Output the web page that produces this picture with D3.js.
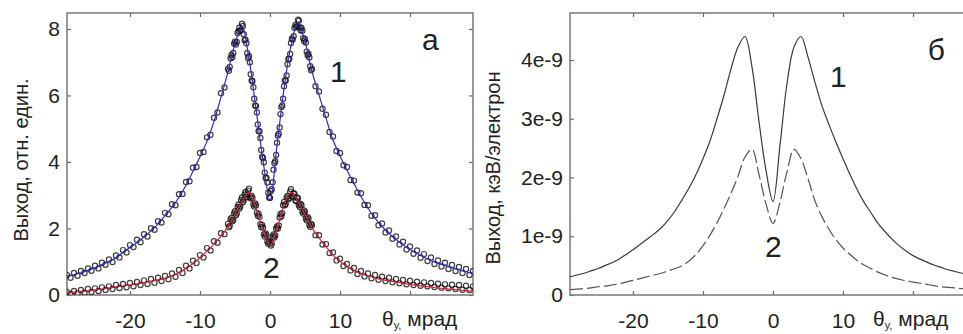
<!DOCTYPE html>
<html>
<head>
<meta charset="utf-8">
<script src="https://cdn.jsdelivr.net/npm/d3@7"></script>
<style>
  body { margin: 0; background: #fff; }
  text { font-family: "Liberation Sans", Arial, sans-serif; fill: #222; }
</style>
</head>
<body>
<div id="chart"></div>
<script>
// angle grid of the fitted / calculated curves, mrad
var thetaFit = [-29,-28,-27,-26,-25,-24,-23,-22,-21,-20,-19,-18,-17,-16,-15,-14,-13,-12,-11,-10,
  -9,-8,-7,-6,-5,-4,-3,-2,-1,0,1,2,3,4,5,6,7,8,9,10,
  11,12,13,14,15,16,17,18,19,20,21,22,23,24,25,26,27,28,29];

// panel a: fits (rel. units)
var fitA1 = [0.56,0.61,0.67,0.74,0.82,0.91,1.01,1.12,1.28,1.43,1.58,1.75,1.93,2.14,2.38,2.64,2.94,3.30,3.72,4.16,
  4.62,5.22,5.95,6.72,7.55,8.08,7.10,5.60,4.05,2.85,4.50,6.20,7.50,8.20,7.62,6.72,6.02,5.32,4.66,4.18,
  3.75,3.35,2.96,2.61,2.31,2.06,1.85,1.67,1.51,1.37,1.25,1.14,1.04,0.96,0.89,0.82,0.76,0.70,0.65];
var fitA2 = [0.06,0.08,0.10,0.12,0.15,0.18,0.21,0.24,0.27,0.30,0.33,0.37,0.41,0.45,0.50,0.57,0.67,0.80,0.95,1.12,
  1.32,1.53,1.77,2.06,2.42,2.82,3.08,2.62,1.95,1.50,1.98,2.72,3.08,2.82,2.42,2.02,1.72,1.45,1.20,1.01,
  0.85,0.73,0.64,0.57,0.51,0.46,0.42,0.39,0.35,0.32,0.29,0.26,0.24,0.21,0.19,0.17,0.15,0.13,0.11];

// panel a: measured points
var thetaData = [-29,-28.5,-28,-27.5,-27,-26.5,-26,-25.5,-25,-24.5,-24,-23.5,-23,-22.5,-22,-21.5,-21,-20.5,-20,-19.5,
  -19,-18.5,-18,-17.5,-17,-16.5,-16,-15.5,-15,-14.5,-14,-13.5,-13,-12.5,-12,-11.5,-11,-10.5,-10,-9.5,
  -9,-8.5,-8,-7.5,-7,-6.5,
  -6,-5.75,-5.5,-5.25,-5,-4.75,-4.5,-4.25,-4,-3.75,-3.5,-3.25,-3,-2.75,-2.5,-2.25,-2,-1.75,-1.5,-1.25,
  -1,-0.75,-0.5,-0.25,0,0.25,0.5,0.75,1,1.25,1.5,1.75,2,2.25,2.5,2.75,3,3.25,3.5,3.75,
  4,4.25,4.5,4.75,5,5.25,5.5,5.75,6,
  6.5,7,7.5,8,8.5,9,9.5,10,10.5,11,11.5,12,12.5,13,13.5,14,14.5,15,15.5,16,
  16.5,17,17.5,18,18.5,19,19.5,20,20.5,21,21.5,22,22.5,23,23.5,24,24.5,25,25.5,26,
  26.5,27,27.5,28,28.5,29];
var dataA1 = [0.60,0.52,0.66,0.58,0.72,0.66,0.80,0.73,0.88,0.80,0.97,0.91,1.07,0.99,1.19,1.13,1.35,1.28,1.50,1.44,
  1.66,1.59,1.83,1.76,2.01,1.96,2.22,2.18,2.47,2.43,2.73,2.70,3.03,3.04,3.40,3.42,3.83,3.85,4.27,4.30,
  4.74,4.82,5.33,5.49,6.07,6.24,
  6.80,6.86,7.22,7.28,7.62,7.61,7.93,7.95,8.16,7.84,7.68,7.27,7.18,6.64,6.43,5.90,5.68,5.13,4.92,4.36,
  4.12,3.68,3.52,3.08,2.92,3.18,3.77,4.02,4.58,4.85,5.44,5.70,6.28,6.45,6.94,7.10,7.58,7.68,8.04,8.06,
  8.28,8.05,8.03,7.72,7.70,7.32,7.25,6.88,6.80,
  6.28,6.12,5.60,5.42,4.90,4.77,4.33,4.27,3.90,3.85,3.46,3.44,3.08,3.06,2.71,2.70,2.38,2.40,2.10,2.15,
  1.88,1.94,1.69,1.76,1.52,1.60,1.37,1.46,1.24,1.34,1.12,1.23,1.02,1.13,0.93,1.04,0.86,0.97,0.78,0.90,
  0.72,0.84,0.66,0.78,0.60,0.72];
var dataA2 = [0.10,0.03,0.12,0.05,0.15,0.07,0.18,0.09,0.20,0.12,0.23,0.15,0.26,0.18,0.30,0.21,0.33,0.23,0.36,0.26,
  0.39,0.30,0.44,0.33,0.48,0.37,0.52,0.42,0.57,0.47,0.65,0.55,0.75,0.66,0.88,0.80,1.03,0.96,1.20,1.13,
  1.41,1.34,1.62,1.57,1.86,1.83,
  2.14,2.08,2.32,2.26,2.52,2.45,2.72,2.66,2.93,2.85,3.10,3.02,3.20,2.90,2.92,2.66,2.70,2.38,2.35,2.04,
  2.03,1.76,1.80,1.54,1.58,1.55,1.82,1.79,2.06,2.09,2.44,2.46,2.80,2.74,2.98,2.92,3.18,2.96,3.04,2.82,
  2.90,2.65,2.70,2.45,2.50,2.25,2.30,2.05,2.10,
  1.80,1.80,1.52,1.53,1.26,1.28,1.04,1.09,0.87,0.93,0.74,0.81,0.63,0.72,0.56,0.65,0.50,0.60,0.46,0.55,
  0.42,0.52,0.38,0.48,0.35,0.45,0.32,0.43,0.30,0.40,0.28,0.38,0.26,0.36,0.24,0.34,0.22,0.32,0.20,0.31,
  0.18,0.30,0.16,0.28,0.15,0.26];

// extra measured points in the steep central part
var thetaDataFine = [-5.875,-5.625,-5.375,-5.125,-4.875,-4.625,-4.375,-4.125,-3.875,-3.625,-3.375,-3.125,
  -2.875,-2.625,-2.375,-2.125,-1.875,-1.625,-1.375,-1.125,-0.875,-0.625,-0.375,-0.125,
  0.125,0.375,0.625,0.875,1.125,1.375,1.625,1.875,2.125,2.375,2.625,2.875,
  3.125,3.375,3.625,3.875,4.125,4.375,4.625,4.875,5.125,5.375,5.625,5.875];
var dataA1Fine = [6.74,7.12,7.15,7.56,7.53,7.88,8.04,7.98,8.09,7.66,7.57,7.13,
  7.00,6.45,6.25,5.70,5.49,4.93,4.72,4.16,3.99,3.52,3.38,2.93,
  3.13,3.39,3.97,4.21,4.80,5.04,5.65,5.90,6.45,6.60,7.10,7.25,
  7.71,7.78,8.12,8.09,8.25,7.96,7.95,7.64,7.59,7.21,7.14,6.76];
var dataA2Fine = [2.04,2.27,2.22,2.46,2.40,2.65,2.60,2.86,2.79,3.02,2.94,3.14,
  2.95,2.98,2.72,2.75,2.47,2.44,2.13,2.11,1.83,1.85,1.60,1.62,
  1.49,1.75,1.73,1.99,2.00,2.33,2.37,2.70,2.70,2.93,2.88,3.11,
  2.98,3.06,2.85,2.93,2.70,2.74,2.50,2.54,2.30,2.34,2.10,2.14];

// panel б: calculated yield, units of 1e-9 keV/electron
var calcB1 = [0.31,0.34,0.37,0.41,0.45,0.50,0.55,0.61,0.69,0.77,0.86,0.95,1.04,1.14,1.27,1.43,1.62,1.82,2.05,2.32,
  2.62,3.00,3.40,3.85,4.22,4.40,3.88,2.95,2.12,1.59,2.55,3.60,4.22,4.40,4.05,3.62,3.22,2.90,2.60,2.32,
  2.05,1.80,1.58,1.40,1.22,1.08,0.95,0.84,0.75,0.67,0.61,0.56,0.51,0.47,0.43,0.40,0.37,0.34,0.32];
var calcB2 = [0.09,0.10,0.11,0.12,0.14,0.15,0.17,0.19,0.22,0.25,0.28,0.31,0.34,0.37,0.41,0.45,0.50,0.58,0.69,0.84,
  1.02,1.23,1.47,1.73,2.02,2.35,2.48,2.05,1.55,1.22,1.58,2.10,2.48,2.32,1.98,1.60,1.33,1.12,0.94,0.80,
  0.69,0.59,0.51,0.45,0.39,0.34,0.30,0.27,0.24,0.22,0.20,0.18,0.16,0.14,0.13,0.12,0.11,0.10,0.09];

// ticks
var xTicks = [-20, -10, 0, 10, 20];
var xTickLabels = ["-20", "-10", "0", "10", ""];
var yTicksA = [0, 2, 4, 6, 8];
var yTicksB = [0, 1, 2, 3, 4];
var yTickLabelsB = ["0", "1e-9", "2e-9", "3e-9", "4e-9"];

var svgWidth = 963;
var svgHeight = 334;
var width = 406;
var height = 282;
var top0 = 13;

var svg = d3.select("#chart")
  .append("svg")
  .attr("width", svgWidth)
  .attr("height", svgHeight);

var xScale = d3.scaleLinear().domain([-29, 29]).range([0, width]);
var yScaleA = d3.scaleLinear().domain([0, 8.48]).range([height, 0]);
var yScaleB = d3.scaleLinear().domain([0, 4.8]).range([height, 0]);

function zip(xs, ys) {
  return xs.map((x, i) => [x, ys[i]]);
}

// frame with inward ticks on all four sides
function drawFrame(g, yScale, yTicks, yLabels, id) {
  g.append("g")
    .attr("class", "axis")
    .attr("transform", `translate(0, ${height})`)
    .call(d3.axisBottom(xScale).tickValues(xTicks).tickSizeInner(-4).tickSizeOuter(0)
      .tickPadding(18).tickFormat((d, i) => xTickLabels[i]));
  g.append("g")
    .attr("class", "axis")
    .call(d3.axisTop(xScale).tickValues(xTicks).tickSizeInner(-4).tickSizeOuter(0).tickFormat(""));
  g.append("g")
    .attr("class", "axis")
    .call(d3.axisLeft(yScale).tickValues(yTicks).tickSizeInner(-4).tickSizeOuter(0)
      .tickPadding(7).tickFormat((d, i) => yLabels[i]));
  g.append("g")
    .attr("class", "axis")
    .attr("transform", `translate(${width}, 0)`)
    .call(d3.axisRight(yScale).tickValues(yTicks).tickSizeInner(-4).tickSizeOuter(0).tickFormat(""));

  g.selectAll(".axis .domain").remove();
  g.selectAll(".axis line").attr("stroke", "#666").attr("stroke-width", 1.2);
  g.selectAll(".axis text")
    .attr("font-size", 21)
    .attr("font-family", "Liberation Sans, Arial, sans-serif")
    .attr("fill", "#222");

  g.append("rect")
    .attr("width", width)
    .attr("height", height)
    .attr("fill", "none")
    .attr("stroke", "#777")
    .attr("stroke-width", 1.5);

  g.append("clipPath").attr("id", id)
    .append("rect").attr("width", width).attr("height", height);
}

function xTitle(g, dx) {
  var t = g.append("text")
    .attr("x", dx)
    .attr("y", height + 31)
    .attr("font-size", 21);
  t.append("tspan").text("θ");
  t.append("tspan").attr("font-size", 11).attr("dy", 3).text("y,");
  t.append("tspan").attr("dy", -3).text(" мрад");
}

// ---------- panel a ----------
var gA = svg.append("g").attr("transform", `translate(67, ${top0})`);
drawFrame(gA, yScaleA, yTicksA, yTicksA.map(String), "clipA");

var lineA = d3.line()
  .x(d => xScale(d[0]))
  .y(d => yScaleA(d[1]))
  .curve(d3.curveCatmullRom.alpha(0.5));

var plotA = gA.append("g").attr("clip-path", "url(#clipA)");

function drawPoints(xs, values) {
  plotA.append("g")
    .selectAll("circle")
    .data(zip(xs, values))
    .enter()
    .append("circle")
    .attr("cx", d => xScale(d[0]))
    .attr("cy", d => yScaleA(d[1]))
    .attr("r", 2.6)
    .attr("fill", "none")
    .attr("stroke", "#111")
    .attr("stroke-width", 1.2)
    .attr("opacity", 0.8);
}

drawPoints(thetaData, dataA1);
drawPoints(thetaDataFine, dataA1Fine);
plotA.append("path")
  .datum(zip(thetaFit, fitA1))
  .attr("d", lineA)
  .attr("fill", "none")
  .attr("stroke", "#2d2dd6")
  .attr("stroke-width", 1.2);

drawPoints(thetaData, dataA2);
drawPoints(thetaDataFine, dataA2Fine);
plotA.append("path")
  .datum(zip(thetaFit, fitA2))
  .attr("d", lineA)
  .attr("fill", "none")
  .attr("stroke", "#e0203c")
  .attr("stroke-width", 1.2);

gA.append("text")
  .attr("transform", `translate(-39, ${height / 2 + 6}) rotate(-90)`)
  .attr("text-anchor", "middle")
  .attr("font-size", 20)
  .text("Выход, отн. един.");

xTitle(gA, 315);

gA.append("text").attr("x", xScale(8.57)).attr("y", yScaleA(6.4)).attr("font-size", 30).text("1");
gA.append("text").attr("x", xScale(-1.0)).attr("y", yScaleA(0.51)).attr("font-size", 30).text("2");
gA.append("text").attr("x", xScale(21.7)).attr("y", yScaleA(7.37)).attr("font-size", 30).text("а");

// ---------- panel б ----------
var gB = svg.append("g").attr("transform", `translate(570, ${top0})`);
drawFrame(gB, yScaleB, yTicksB, yTickLabelsB, "clipB");

var lineB = d3.line()
  .x(d => xScale(d[0]))
  .y(d => yScaleB(d[1]))
  .curve(d3.curveCatmullRom.alpha(0.5));

var plotB = gB.append("g").attr("clip-path", "url(#clipB)");

plotB.append("path")
  .datum(zip(thetaFit, calcB1))
  .attr("d", lineB)
  .attr("fill", "none")
  .attr("stroke", "#3a3a3a")
  .attr("stroke-width", 1.2);

plotB.append("path")
  .datum(zip(thetaFit, calcB2))
  .attr("d", lineB)
  .attr("fill", "none")
  .attr("stroke", "#555")
  .attr("stroke-width", 1.2)
  .attr("stroke-dasharray", "13,4");

gB.append("text")
  .attr("transform", `translate(-70, ${height / 2 + 14}) rotate(-90)`)
  .attr("text-anchor", "middle")
  .attr("font-size", 20)
  .text("Выход, кэВ/электрон");

xTitle(gB, 303);

gB.append("text").attr("x", xScale(8.14)).attr("y", yScaleB(3.54)).attr("font-size", 30).text("1");
gB.append("text").attr("x", xScale(-1.14)).attr("y", yScaleB(0.65)).attr("font-size", 30).text("2");
gB.append("text").attr("x", xScale(22.1)).attr("y", yScaleB(4.0)).attr("font-size", 30).text("б");
</script>
</body>
</html>
